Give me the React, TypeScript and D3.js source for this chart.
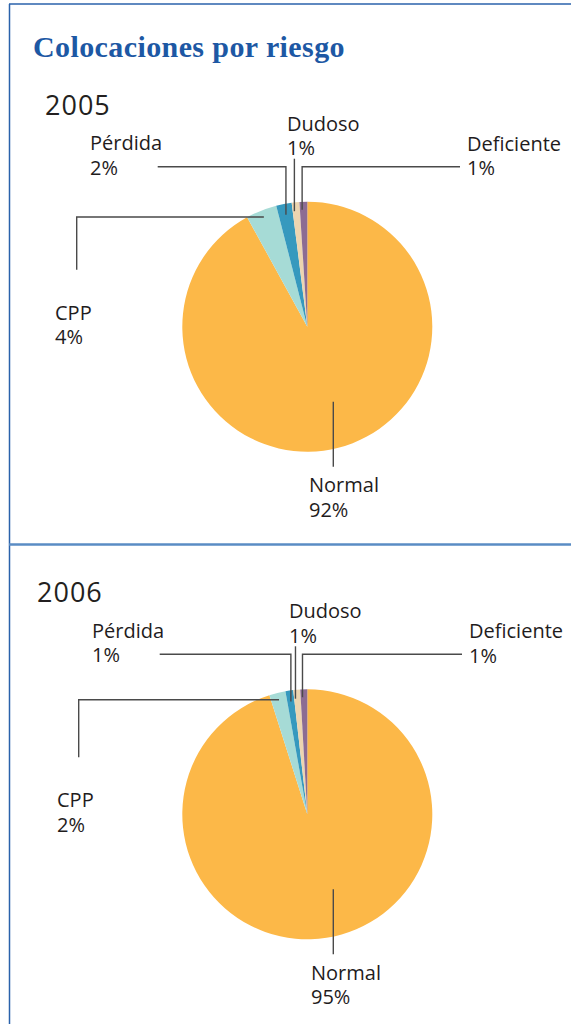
import React from "react";
import * as d3 from "d3";

const categories = ["Normal", "CPP", "Pérdida", "Dudoso", "Deficiente"];
const values2005 = [92.0, 4.0, 2.0, 1.0, 1.0];
const values2006 = [95.1, 2.1, 1.0, 0.9, 0.9];
const years = ["2005", "2006"];
const sliceColors = ["#fcb848", "#a6dbd6", "#3699be", "#ecd5b0", "#8c6c93"];

const W = 571;
const H = 1024;
const R = 125;
const CX = 307.3;
const panelCY = [326.7, 814.3];
const panelDX = [0, 2];
const yearX = [45, 37];

// label layout relative to pie center (x absolute, y relative to cy)
const labelX: Record<string, number> = { Normal: 309, CPP: 55, "Pérdida": 90, Dudoso: 287, Deficiente: 467 };
const labelDY: Record<string, number> = { Normal: 165.5, CPP: -7, "Pérdida": -176.5, Dudoso: -196, Deficiente: -176 };

const fmt = (v: number) => `${Math.round(v)}%`;

function Panel({ idx, values }: { idx: number; values: number[] }) {
  const cy = panelCY[idx];
  const dx = panelDX[idx];
  const pie = d3.pie<number>().sort(null).startAngle(0).endAngle(2 * Math.PI)(values);
  const arc = d3.arc<d3.PieArcDatum<number>>().innerRadius(0).outerRadius(R);
  const pt = (a: number, r: number) => [CX + r * Math.sin(a), cy - r * Math.cos(a)];
  const mid = (i: number) => (pie[i].startAngle + pie[i].endAngle) / 2;

  const lines: string[] = [];
  {
    const [ex, ey] = pt(mid(1), 118);
    lines.push(`M${76.7 + dx},${cy - 57}V${ey}H${ex}`);
  }
  {
    const [ex, ey] = pt(mid(2), 114);
    lines.push(`M${157.7 + dx},${cy - 160}H${ex}V${ey}`);
  }
  {
    const [ex, ey] = pt(mid(3), 116);
    lines.push(`M${ex - 2},${cy - 168}V${ey}`);
  }
  {
    const [ex, ey] = pt(mid(4), 117);
    lines.push(`M${460 + dx},${cy - 160}H${ex - 1.5}V${ey}`);
  }
  lines.push(`M${CX + 26},${cy + 75}V${cy + 140}`);

  return (
    <g>
      <text x={yearX[idx]} y={cy - 212} fontFamily="'Open Sans', sans-serif" fontSize={27} fontWeight={500} letterSpacing={1} fill="#231f20">
        {years[idx]}
      </text>
      <g transform={`translate(${CX},${cy})`}>
        {pie.map((d, i) => (
          <path key={i} d={arc(d) || ""} fill={sliceColors[i]} />
        ))}
      </g>
      {lines.map((d, i) => (
        <path key={i} d={d} fill="none" stroke="#4a4a4a" strokeWidth={1.4} />
      ))}
      {categories.map((c, i) => (
        <text key={c} x={labelX[c] + dx} y={cy + labelDY[c]} fontFamily="'Open Sans', sans-serif" fontSize={20} fontWeight={500} fill="#1f1c1d">
          <tspan x={labelX[c] + dx}>{c}</tspan>
          <tspan x={labelX[c] + dx} dy={24.5}>{fmt(values[i])}</tspan>
        </text>
      ))}
    </g>
  );
}

export default function App() {
  return (
    <svg width={W} height={H} style={{ position: "absolute", left: 0, top: 0, background: "#fff" }}>
      <rect x={0} y={0} width={W} height={H} fill="#fff" />
      <line x1={9} y1={4} x2={W} y2={4} stroke="#2a62ab" strokeWidth={1.5} />
      <line x1={9.5} y1={4} x2={9.5} y2={H} stroke="#2a62ab" strokeWidth={1.5} />
      <line x1={9} y1={544.5} x2={W} y2={544.5} stroke="#5a8cc4" strokeWidth={2.5} />
      <text x={33} y={57} fontFamily="'Liberation Serif', serif" fontWeight="bold" fontSize={30} letterSpacing={0.4} fill="#1d58a4">
        Colocaciones por riesgo
      </text>
      <Panel idx={0} values={values2005} />
      <Panel idx={1} values={values2006} />
    </svg>
  );
}
